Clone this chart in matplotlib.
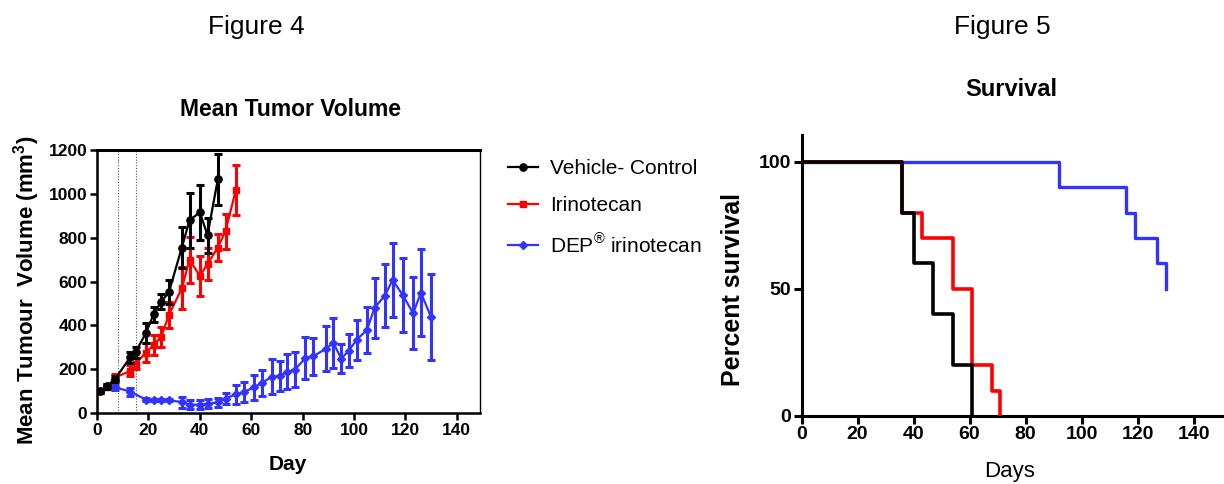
import matplotlib
matplotlib.use("Agg")
import matplotlib.pyplot as plt
from matplotlib.lines import Line2D

plt.rcParams['font.family'] = ['Liberation Sans', 'DejaVu Sans']
plt.rcParams['mathtext.fontset'] = 'custom'
plt.rcParams['mathtext.rm'] = 'Liberation Sans'
plt.rcParams['mathtext.bf'] = 'Liberation Sans:bold'

# ---------------- Figure 4 data ----------------
vehicle_days = [1, 4, 7, 13, 15, 19, 22, 25, 28, 33, 36, 40, 43, 47]
vehicle_mean = [100, 122, 155, 255, 278, 364, 450, 508, 552, 755, 880, 915, 812, 1066]
vehicle_sem = [8, 12, 15, 25, 25, 45, 35, 35, 55, 95, 125, 125, 80, 118]

irino_days = [1, 4, 7, 13, 15, 19, 22, 25, 28, 33, 36, 40, 43, 47, 50, 54]
irino_mean = [100, 120, 162, 192, 224, 276, 310, 348, 448, 569, 700, 625, 680, 755, 830, 1017]
irino_sem = [8, 10, 15, 25, 25, 45, 45, 45, 60, 95, 105, 90, 75, 60, 80, 114]

dep_days = [1, 4, 7, 13, 19, 22, 25, 28, 33, 36, 40, 43, 47, 50, 54, 57,
            61, 64, 68, 71, 74, 77, 81, 84, 89, 92, 95, 98, 101, 105, 108, 112,
            115, 119, 123, 126, 130]
dep_mean = [100, 122, 118, 97, 61, 58, 58, 58, 50, 38, 38, 42, 48, 66, 85, 95,
            117, 136, 166, 168, 188, 198, 250, 258, 293, 320, 248, 285, 334, 379, 480, 536,
            607, 537, 455, 549, 437]
dep_sem = [6, 12, 12, 18, 6, 5, 5, 5, 25, 20, 20, 20, 22, 27, 42, 45,
           57, 60, 80, 68, 80, 80, 95, 83, 102, 115, 66, 76, 92, 105, 136, 145,
           168, 168, 165, 199, 197]

dosing_days = [0, 8, 15]

labels = ['Vehicle- Control', 'Irinotecan', r'DEP$^{\mathregular{®}}$ irinotecan']
colors = ['#000000', '#ff0000', '#3333ff']

x_ticks4 = [0, 20, 40, 60, 80, 100, 120, 140]
y_ticks4 = [0, 200, 400, 600, 800, 1000, 1200]

# ---------------- Figure 5 data ----------------
veh_surv_t = [0, 36, 40, 47, 54, 61]
veh_surv_p = [100, 80, 60, 40, 20, 0]
iri_surv_t = [0, 36, 43, 54, 61, 68, 71]
iri_surv_p = [100, 80, 70, 50, 20, 10, 0]
dep_surv_t = [0, 92, 116, 119, 127, 130]
dep_surv_p = [100, 90, 80, 70, 60, 50]

x_ticks5 = [0, 20, 40, 60, 80, 100, 120, 140]
y_ticks5 = [0, 50, 100]

W, H = 1224, 484
fig = plt.figure(figsize=(W / 100, H / 100), dpi=100)

# ---------------- Left chart ----------------
ax = fig.add_axes([97 / W, 1 - 413 / H, (480 - 97) / W, 263 / H])
for d in dosing_days:
    ax.axvline(d, color='#555555', lw=0.8, ls=(0, (1, 1.5)), zorder=1)

series = [
    (dep_days, dep_mean, dep_sem, colors[2], 'D', 4.0),
    (irino_days, irino_mean, irino_sem, colors[1], 's', 5.0),
    (vehicle_days, vehicle_mean, vehicle_sem, colors[0], 'o', 5.2),
]
for i, (d, m, s, c, mk, ms) in enumerate(series):
    ax.errorbar(d, m, yerr=s, color=c, marker=mk, ms=ms, lw=1.6,
                elinewidth=2.2, capsize=3.2, capthick=2.2, zorder=3 + i)

ax.set_xlim(0, 149)
ax.set_ylim(0, 1200)
ax.set_xticks(x_ticks4)
ax.set_yticks(y_ticks4)
for sp in ['left', 'bottom']:
    ax.spines[sp].set_linewidth(1.8)
ax.spines['top'].set_linewidth(2.2)
ax.spines['right'].set_linewidth(1.0)
ax.tick_params(axis='both', direction='out', length=5, width=1.8,
               labelsize=12.5, pad=2)
ax.tick_params(top=False, right=False)
for lab in ax.get_xticklabels() + ax.get_yticklabels():
    lab.set_fontweight('bold')

handles = [
    Line2D([], [], color=colors[0], marker='o', ms=5.2, lw=1.6),
    Line2D([], [], color=colors[1], marker='s', ms=5.0, lw=1.6),
    Line2D([], [], color=colors[2], marker='D', ms=4.0, lw=1.6),
]
fig.legend(handles, labels, loc='upper left', bbox_to_anchor=(500 / W, 1 - 151 / H),
           frameon=False, fontsize=15, handlelength=1.4, handletextpad=0.6,
           labelspacing=0.85, borderaxespad=0)

fig.text(256 / W, 1 - 27 / H, 'Figure 4', ha='center', va='center', fontsize=19)
fig.text(290 / W, 1 - 109 / H, 'Mean Tumor Volume', ha='center', va='center',
         fontsize=16.5, fontweight='bold')
fig.text(27 / W, 1 - 290 / H, r'Mean Tumour  Volume (mm$^\mathbf{3}$)', rotation=90,
         ha='center', va='center', fontsize=16, fontweight='bold')
fig.text(288 / W, 1 - 465 / H, 'Day', ha='center', va='center', fontsize=15,
         fontweight='bold')

# ---------------- Right chart ----------------
ax2 = fig.add_axes([801.5 / W, 1 - 416 / H, (1223 - 801.5) / W, 281 / H])
ax2.step(dep_surv_t, dep_surv_p, where='post', color=colors[2], lw=2.4, zorder=2)
ax2.step(iri_surv_t, iri_surv_p, where='post', color=colors[1], lw=2.6, zorder=3)
ax2.step(veh_surv_t, veh_surv_p, where='post', color=colors[0], lw=2.6, zorder=4)
ax2.set_xlim(0, 150.5)
ax2.set_ylim(0, 110.5)
ax2.set_xticks(x_ticks5)
ax2.set_yticks(y_ticks5)
ax2.spines['top'].set_visible(False)
ax2.spines['right'].set_visible(False)
for sp in ['left', 'bottom']:
    ax2.spines[sp].set_linewidth(2.2)
ax2.tick_params(axis='both', direction='out', length=5.5, width=2.2,
                labelsize=14, pad=2)
for lab in ax2.get_xticklabels() + ax2.get_yticklabels():
    lab.set_fontweight('bold')

fig.text(1002 / W, 1 - 27 / H, 'Figure 5', ha='center', va='center', fontsize=19)
fig.text(1011 / W, 1 - 90 / H, 'Survival', ha='center', va='center',
         fontsize=17, fontweight='bold')
fig.text(733 / W, 1 - 289 / H, 'Percent survival', rotation=90,
         ha='center', va='center', fontsize=18, fontweight='bold')
fig.text(1010 / W, 1 - 472 / H, 'Days', ha='center', va='center', fontsize=16)

fig.savefig('out.png', dpi=100)
